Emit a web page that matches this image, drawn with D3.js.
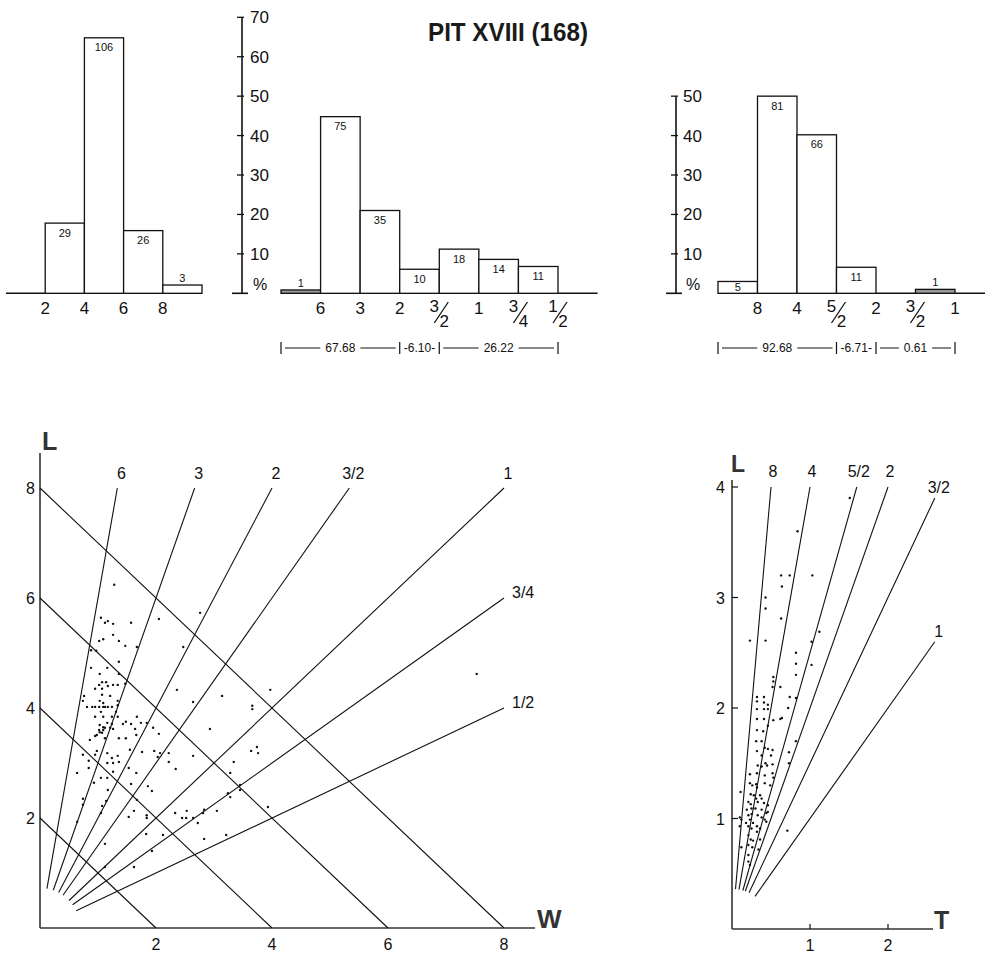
<!DOCTYPE html>
<html><head><meta charset="utf-8">
<script src="https://cdn.jsdelivr.net/npm/d3@7"></script>
<style>
html,body{margin:0;padding:0;background:#fff;}
svg{display:block;font-family:"Liberation Sans",Arial,Helvetica,sans-serif;}
</style></head><body>
<svg id="c" width="996" height="953"></svg>
<script>
// ---------------- DATA ----------------
const title = "PIT XVIII (168)";

// histogram A: length classes (cm)
const lenEdges = [2, 4, 6, 8];
const lenCounts = [29, 106, 26, 3];
const lenPct = [17.8, 64.8, 15.9, 2.1];

// histogram B: L/W ratio classes
const lwLabels = ["6", "3", "2", "3/2", "1", "3/4", "1/2"];
const lwCounts = [1, 75, 35, 10, 18, 14, 11];
const lwPct = [0.85, 44.8, 21.0, 6.1, 11.2, 8.6, 6.8];
const lwGroupText = ["67.68", "6.10", "26.22"];
const lwGroupSpan = [[0, 3], [3, 4], [4, 7]];

// histogram C: L/T ratio classes
const ltLabels = ["8", "4", "5/2", "2", "3/2", "1"];
const ltCounts = [5, 81, 66, 11, 0, 1];
const ltPct = [3.0, 50.0, 40.2, 6.6, 0, 1.0];
const ltGroupText = ["92.68", "6.71", "0.61"];
const ltGroupSpan = [[0, 3], [3, 4], [4, 6]];

const pctTicksA = [10, 20, 30, 40, 50, 60, 70];
const pctTicksC = [10, 20, 30, 40, 50];

// scatter 1: length vs width
const sizeLines = [2, 4, 6, 8];
const wTicks = [2, 4, 6, 8];
const lTicks = [2, 4, 6, 8];
const lwRatios = [6, 3, 2, 1.5, 1, 0.75, 0.5];
const lwRatioLabels = ["6", "3", "2", "3/2", "1", "3/4", "1/2"];
const pointsLW = [
[1.28,6.24],[2.76,5.73],[2.05,5.62],[1.05,5.64],[1.12,5.55],[1.17,5.58],[1.26,5.53],[1.57,5.55],[1.26,5.33],[1.02,5.22],
[1.09,5.25],[1.36,5.22],[1.47,5.13],[1.67,5.11],[2.47,5.11],[0.88,5.05],[0.97,5.04],[1.36,4.84],[0.88,4.73],[1.16,4.73],
[1.03,4.62],[1.36,4.62],[1.07,4.47],[1.14,4.47],[1.02,4.42],[1.17,4.40],[1.26,4.42],[1.34,4.42],[1.47,4.44],[0.95,4.35],
[1.07,4.35],[2.36,4.33],[0.76,4.22],[1.07,4.24],[1.21,4.22],[0.74,4.13],[1.03,4.13],[1.09,4.09],[1.34,4.13],[2.64,4.11],
[0.81,4.02],[0.90,4.02],[0.95,4.02],[1.02,4.02],[1.09,4.02],[1.12,4.02],[1.17,4.02],[1.24,4.02],[1.34,4.05],[1.05,3.93],
[1.31,3.93],[0.95,3.84],[1.09,3.84],[1.24,3.84],[1.34,3.84],[1.48,3.75],[1.57,3.71],[1.67,3.84],[1.74,3.73],[1.84,3.73],
[1.03,3.69],[1.09,3.65],[1.16,3.73],[1.24,3.71],[1.43,3.71],[1.95,3.64],
[3.14,4.22],[3.97,4.33],[3.66,4.04],[3.66,3.98],[7.53,4.62],
[2.93,3.62],[1.02,3.60],[1.03,3.56],[1.07,3.55],[1.09,3.60],[1.12,3.64],[1.21,3.64],[1.26,3.62],[0.98,3.51],[0.86,3.42],
[0.95,3.49],[1.12,3.45],[1.36,3.45],[1.48,3.45],[1.66,3.51],[2.05,3.53],[1.64,3.62],[0.74,3.15],[0.84,3.04],[0.95,3.15],
[0.98,3.22],[1.16,3.18],[1.24,3.09],[1.26,3.00],[1.34,3.13],[1.36,3.02],[1.16,3.00],[1.55,3.24],[1.76,3.20],[1.97,3.22],
[2.07,3.18],[2.03,3.11],[2.22,3.18],[2.22,3.02],[2.34,2.89],[2.64,3.13],[3.64,3.22],[3.74,3.29],[3.76,3.18],[3.34,3.02],
[3.28,2.82],[0.84,2.91],[0.64,2.82],[1.26,2.84],[1.53,2.91],[1.66,2.82],[1.05,2.73],[1.16,2.73],[0.93,2.64],[1.57,2.62],
[1.86,2.58],[1.93,2.49],[1.17,2.51],[0.74,2.35],[0.74,2.24],[1.14,2.31],[1.07,2.22],[1.05,2.09],[1.67,2.33],[1.62,2.13],
[1.53,2.02],[1.84,2.05],[1.84,2.00],[2.33,2.09],[2.45,2.00],[2.52,2.00],[2.53,2.13],[2.64,2.00],[2.72,1.91],[2.83,2.15],
[2.81,2.09],[3.05,2.13],[3.24,2.45],[3.28,2.38],[3.45,2.60],[3.45,2.51],[3.93,2.20],[0.64,1.93],[1.83,1.71],[2.12,1.69],
[2.83,1.62],[3.21,1.69],[1.12,1.53],[1.93,1.40],[1.12,1.11],[1.62,1.11]
];

// scatter 2: length vs thickness
const tTicks = [1, 2];
const l2Ticks = [1, 2, 3, 4];
const ltRatios = [8, 4, 2.5, 2, 1.5, 1];
const ltRatioLabels = ["8", "4", "5/2", "2", "3/2", "1"];
const pointsLT = [
[0.84,3.60],[0.63,3.20],[0.74,3.20],[1.03,3.20],[0.64,3.10],[0.43,3.00],[0.43,2.90],[0.63,2.81],[1.51,3.90],[0.23,2.61],
[0.43,2.61],[1.12,2.69],[1.02,2.60],[0.82,2.50],[0.82,2.40],[1.02,2.39],[0.82,2.30],[0.53,2.28],[0.53,2.24],[0.52,2.19],
[0.62,2.19],[0.32,2.10],[0.41,2.10],[0.74,2.10],[0.82,2.09],[0.32,2.06],[0.41,2.05],[0.46,2.03],[0.32,1.99],[0.41,1.99],
[0.46,1.99],[0.72,2.00],[0.32,1.90],[0.41,1.90],[0.62,1.90],[0.64,1.91],[0.53,1.89],[0.46,1.84],[0.32,1.80],[0.40,1.79],
[0.31,1.70],[0.38,1.70],[0.42,1.64],[0.46,1.63],[0.52,1.62],[0.82,1.70],[0.32,1.61],[0.38,1.57],[0.43,1.50],[0.45,1.48],
[0.50,1.57],[0.52,1.49],[0.73,1.60],[0.73,1.50],[0.33,1.48],[0.38,1.47],[0.23,1.40],[0.32,1.41],[0.42,1.39],[0.52,1.41],
[0.23,1.32],[0.26,1.30],[0.31,1.31],[0.42,1.32],[0.11,1.24],[0.24,1.22],[0.28,1.21],[0.36,1.21],[0.31,1.18],[0.38,1.18],
[0.21,1.15],[0.24,1.13],[0.33,1.15],[0.41,1.14],[0.46,1.12],[0.19,1.08],[0.25,1.09],[0.30,1.09],[0.38,1.08],[0.44,1.05],
[0.46,1.06],[0.21,1.03],[0.25,1.04],[0.33,1.03],[0.38,1.01],[0.42,0.99],[0.44,0.97],[0.10,1.01],[0.12,0.99],[0.23,0.99],
[0.18,0.96],[0.27,0.96],[0.21,0.93],[0.25,0.91],[0.32,0.93],[0.36,0.91],[0.10,0.93],[0.32,0.88],[0.71,0.89],[0.21,0.85],
[0.24,0.81],[0.27,0.80],[0.36,0.81],[0.12,0.74],[0.21,0.76],[0.26,0.74],[0.34,0.72],[0.21,0.67],[0.21,0.61],[0.23,0.58],
[0.53,1.37],[0.49,1.30],[0.32,1.28]
];

// ---------------- DRAW ----------------
const svg = d3.select("#c");
const INK = "#111";

function line(g, x1, y1, x2, y2, w, col) {
  return g.append("line").attr("x1", x1).attr("y1", y1).attr("x2", x2).attr("y2", y2)
    .attr("stroke", col || INK).attr("stroke-width", w || 1);
}

// title
svg.append("text").attr("x", 428).attr("y", 41).attr("font-size", 25).attr("font-weight", "bold")
  .attr("fill", "#1a1a1a").attr("textLength", 160).attr("lengthAdjust", "spacingAndGlyphs").text(title);

// shared percent scale
const yPct = d3.scaleLinear().domain([0, 70]).range([293.3, 17.3]);

// percent axis
function pctAxis(x, ticks, labelDx) {
  const g = svg.append("g");
  line(g, x, yPct(d3.max(ticks)), x, yPct(0), 1.6);
  g.selectAll("line.t").data(ticks).join("line").attr("class", "t")
    .attr("x1", x - 5).attr("x2", x + 2).attr("y1", d => yPct(d)).attr("y2", d => yPct(d))
    .attr("stroke", INK).attr("stroke-width", 1.3);
  line(g, x - 10, yPct(0), x + 6, yPct(0), 1.6);
  g.selectAll("text.t").data(ticks).join("text").attr("class", "t")
    .attr("x", x + labelDx).attr("y", d => yPct(d) + 6).attr("font-size", 17).attr("fill", INK).text(d => d);
  g.append("text").attr("x", x + labelDx + 3).attr("y", yPct(0) - 3).attr("font-size", 16).attr("fill", INK).text("%");
}
pctAxis(242, pctTicksA, 8);
pctAxis(676, pctTicksC, 7);

function barLabel(g, cx, top, base, pct, count) {
  if (count === 0) return;
  const inside = pct >= 2.5;
  const y = inside ? Math.min(top + 13.5, base - 2) : top - 3;
  g.append("text").attr("x", cx).attr("y", y).attr("text-anchor", "middle")
    .attr("font-size", 11).attr("fill", INK).text(count);
}

function catLabel(g, x, lab) {
  if (lab.includes("/")) {
    const [n, d] = lab.split("/");
    g.append("text").attr("x", x - 5).attr("y", 312).attr("text-anchor", "middle").attr("font-size", 17).attr("fill", INK).text(n);
    g.append("text").attr("x", x + 5).attr("y", 327).attr("text-anchor", "middle").attr("font-size", 17).attr("fill", INK).text(d);
    line(g, x - 5, 323, x + 9, 302, 1.3);
  } else {
    g.append("text").attr("x", x).attr("y", 314).attr("text-anchor", "middle").attr("font-size", 17).attr("fill", INK).text(lab);
  }
}

// histogram A
{
  const g = svg.append("g");
  const xLen = d3.scaleLinear().domain([0, 10]).range([6, 202]);
  line(g, xLen(0), yPct(0), xLen(10), yPct(0), 1.6);
  lenEdges.forEach((e, i) => {
    const x0 = xLen(e), x1 = xLen(e + 2), top = yPct(lenPct[i]);
    g.append("rect").attr("x", x0).attr("y", top).attr("width", x1 - x0).attr("height", yPct(0) - top)
      .attr("fill", "#fff").attr("stroke", INK).attr("stroke-width", 1.3);
    barLabel(g, (x0 + x1) / 2, top, yPct(0), lenPct[i], lenCounts[i]);
    catLabel(g, x0, String(e));
  });
}

function ratioHist(xs, labels, counts, pcts, baseEnd, groupText, groupSpan) {
  const g = svg.append("g");
  line(g, xs(0), yPct(0), baseEnd, yPct(0), 1.6);
  labels.forEach((lab, i) => {
    const x0 = xs(i), x1 = xs(i + 1), top = yPct(pcts[i]);
    if (pcts[i] > 0) {
      g.append("rect").attr("x", x0).attr("y", top).attr("width", x1 - x0).attr("height", yPct(0) - top)
        .attr("fill", pcts[i] < 1.5 ? "#999" : "#fff").attr("stroke", INK).attr("stroke-width", 1.3);
    }
    barLabel(g, (x0 + x1) / 2, top, yPct(0), pcts[i], counts[i]);
    catLabel(g, x1, lab);
  });
  // percentage brackets
  const y = 348;
  groupSpan.forEach((s, i) => {
    const x0 = xs(s[0]), x1 = xs(s[1]), mid = (x0 + x1) / 2;
    const narrow = (x1 - x0) < 60;
    const t = g.append("text").attr("x", mid).attr("y", y + 4).attr("text-anchor", "middle")
      .attr("font-size", 12).attr("fill", INK).text(narrow ? "-" + groupText[i] + "-" : groupText[i]);
    const w = t.node().getComputedTextLength();
    if (!narrow) {
      line(g, x0 + 4, y, mid - w / 2 - 5, y, 1);
      line(g, mid + w / 2 + 5, y, x1 - 4, y, 1);
    }
    line(g, x0, y - 6, x0, y + 6, 1.2);
    if (i === groupSpan.length - 1) line(g, x1, y - 6, x1, y + 6, 1.2);
  });
}
const xB = d3.scaleLinear().domain([0, 7]).range([281, 558]);
ratioHist(xB, lwLabels, lwCounts, lwPct, xB(8), lwGroupText, lwGroupSpan);
const xC = d3.scaleLinear().domain([0, 6]).range([718, 955]);
ratioHist(xC, ltLabels, ltCounts, ltPct, 985, ltGroupText, ltGroupSpan);

// ratio fan helper
function fan(g, xs, ys, ratios, labels, xMax, yMax, labelFn) {
  const ox = xs(0), oy = ys(0);
  const sx = xs(1) - xs(0), sy = ys(0) - ys(1);
  ratios.forEach((r, i) => {
    let ex, ey;
    if (r * xMax >= yMax) { ey = yMax; ex = yMax / r; } else { ex = xMax; ey = xMax * r; }
    const dx = sx, dy = -sy * r, len = Math.hypot(dx, dy);
    const s0x = ox + dx / len * 40, s0y = oy + dy / len * 40;
    const px = xs(ex), py = ys(ey);
    line(g, s0x, s0y, px, py, 1.1);
    const pos = labelFn(r * xMax >= yMax, px, py);
    g.append("text").attr("x", pos[0]).attr("y", pos[1]).attr("text-anchor", pos[2])
      .attr("font-size", 16).attr("fill", INK).text(labels[i]);
  });
}

// scatter 1
{
  const g = svg.append("g");
  const xW = d3.scaleLinear().domain([0, 8]).range([40, 504]);
  const yL = d3.scaleLinear().domain([0, 8]).range([928, 488]);
  line(g, xW(0), 453, xW(0), yL(0), 1.6, "#333");
  line(g, xW(0), yL(0), 535, yL(0), 1.6, "#333");
  sizeLines.forEach(k => line(g, xW(0), yL(k), xW(k), yL(0), 1.1));
  fan(g, xW, yL, lwRatios, lwRatioLabels, 8, 8,
    (top, px, py) => top ? [px + 4, py - 9, "middle"] : [px + 8, py, "start"]);
  g.selectAll("text.lt").data(lTicks).join("text").attr("class", "lt")
    .attr("x", 35).attr("y", d => yL(d) + 6).attr("text-anchor", "end").attr("font-size", 16).attr("fill", INK).text(d => d);
  g.selectAll("text.wt").data(wTicks).join("text").attr("class", "wt")
    .attr("x", d => xW(d)).attr("y", 950).attr("text-anchor", "middle").attr("font-size", 16).attr("fill", INK).text(d => d);
  g.selectAll("circle").data(pointsLW).join("circle")
    .attr("cx", d => xW(d[0])).attr("cy", d => yL(d[1])).attr("r", 1.2).attr("fill", INK);
  g.append("text").attr("x", 42).attr("y", 450).attr("font-size", 25).attr("font-weight", "bold").attr("fill", "#333").text("L");
  g.append("text").attr("x", 537).attr("y", 928).attr("font-size", 26).attr("font-weight", "bold").attr("fill", "#333").text("W");
}

// scatter 2
{
  const g = svg.append("g");
  const xT = d3.scaleLinear().domain([0, 1]).range([732, 810]);
  const yL2 = d3.scaleLinear().domain([0, 1]).range([929, 818.5]);
  line(g, xT(0), 480, xT(0), yL2(0), 1.6, "#333");
  line(g, xT(0), yL2(0), 933, yL2(0), 1.6, "#333");
  g.selectAll("line.lt").data(l2Ticks).join("line").attr("class", "lt")
    .attr("x1", xT(0)).attr("x2", xT(0) + 6).attr("y1", d => yL2(d)).attr("y2", d => yL2(d))
    .attr("stroke", INK).attr("stroke-width", 1.2);
  g.selectAll("line.tt").data(tTicks).join("line").attr("class", "tt")
    .attr("x1", d => xT(d)).attr("x2", d => xT(d)).attr("y1", yL2(0)).attr("y2", yL2(0) - 5)
    .attr("stroke", INK).attr("stroke-width", 1.2);
  fan(g, xT, yL2, ltRatios, ltRatioLabels, 2.6, 4,
    (top, px, py) => top ? [px + 2, py - 10, "middle"] : [px + 4, py - 5, "middle"]);
  g.selectAll("text.lt").data(l2Ticks).join("text").attr("class", "lt")
    .attr("x", 725).attr("y", d => yL2(d) + 6).attr("text-anchor", "end").attr("font-size", 16).attr("fill", INK).text(d => d);
  g.selectAll("text.tt").data(tTicks).join("text").attr("class", "tt")
    .attr("x", d => xT(d)).attr("y", 951).attr("text-anchor", "middle").attr("font-size", 16).attr("fill", INK).text(d => d);
  g.selectAll("circle").data(pointsLT).join("circle")
    .attr("cx", d => xT(d[0])).attr("cy", d => yL2(d[1])).attr("r", 1.2).attr("fill", INK);
  g.append("text").attr("x", 731).attr("y", 472).attr("font-size", 23).attr("font-weight", "bold").attr("fill", "#333").text("L");
  g.append("text").attr("x", 934).attr("y", 929).attr("font-size", 25).attr("font-weight", "bold").attr("fill", "#333").text("T");
}
</script>
</body></html>
